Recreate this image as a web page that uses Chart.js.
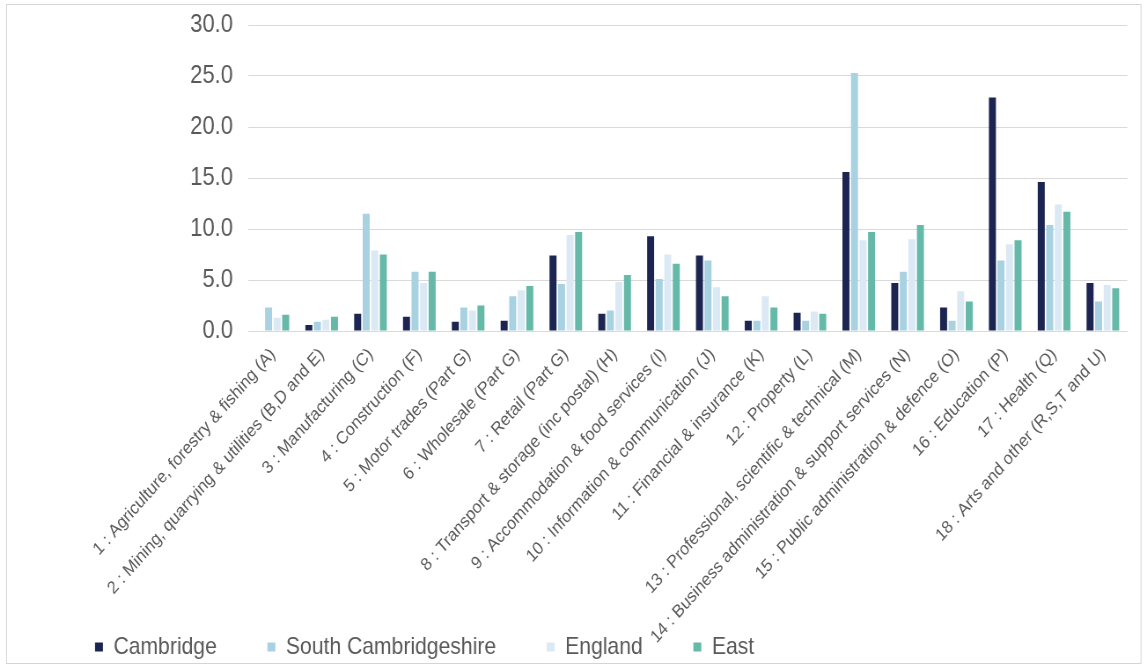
<!DOCTYPE html>
<html>
<head>
<meta charset="utf-8">
<style>
  html, body { margin: 0; padding: 0; background: #ffffff; overflow: hidden; }
  #wrap { position: relative; width: 1147px; height: 666px; overflow: hidden; }
  /* the figure is laid out wider and squeezed horizontally into the page */
  #chart { position: absolute; left: 0; top: 0; transform: scaleX(0.88028); transform-origin: 0 0; }
</style>
<script src="https://cdn.jsdelivr.net/npm/chart.js@4.4.1/dist/chart.umd.min.js"></script>
</head>
<body>
<div id="wrap"><canvas id="chart" width="1303" height="666"></canvas></div>
<script>
// Share of employment by industry (%)
const industries = [
  "1 : Agriculture, forestry & fishing (A)",
  "2 : Mining, quarrying & utilities (B,D and E)",
  "3 : Manufacturing (C)",
  "4 : Construction (F)",
  "5 : Motor trades (Part G)",
  "6 : Wholesale (Part G)",
  "7 : Retail (Part G)",
  "8 : Transport & storage (inc postal) (H)",
  "9 : Accommodation & food services (I)",
  "10 : Information & communication (J)",
  "11 : Financial & insurance (K)",
  "12 : Property (L)",
  "13 : Professional, scientific & technical (M)",
  "14 : Business administration & support services (N)",
  "15 : Public administration & defence (O)",
  "16 : Education (P)",
  "17 : Health (Q)",
  "18 : Arts and other (R,S,T and U)"
];

const cambridge           = [0.0, 0.6, 1.7, 1.4, 0.9, 1.0, 7.4, 1.7, 9.3, 7.4, 1.0, 1.8, 15.6, 4.7, 2.3, 22.9, 14.6, 4.7];
const southCambridgeshire = [2.3, 0.9, 11.5, 5.8, 2.3, 3.4, 4.6, 2.0, 5.1, 6.9, 1.0, 1.0, 25.3, 5.8, 1.0, 6.9, 10.4, 2.9];
const england             = [1.3, 1.1, 7.9, 4.7, 2.0, 4.0, 9.4, 4.8, 7.5, 4.3, 3.4, 1.9, 8.9, 9.0, 3.9, 8.5, 12.4, 4.5];
const east                = [1.6, 1.4, 7.5, 5.8, 2.5, 4.4, 9.7, 5.5, 6.6, 3.4, 2.3, 1.7, 9.7, 10.4, 2.9, 8.9, 11.7, 4.2];

const seriesNames = ["Cambridge", "South Cambridgeshire", "England", "East"];
const yTicks = [0, 5, 10, 15, 20, 25, 30];

const fontFamily = "'Liberation Sans', Arial, sans-serif";

// light frame around the whole figure
const framePlugin = {
  id: 'frame',
  afterDraw(chart) {
    const ctx = chart.ctx;
    ctx.save();
    ctx.strokeStyle = '#d4d4d4';
    ctx.lineWidth = 1;
    ctx.strokeRect(7.4, 4.5, 1288.8, 659);
    ctx.restore();
  }
};

// let the long rotated category labels run down past the axis box
const labelRoomPlugin = {
  id: 'labelRoom',
  afterLayout(chart) {
    const x = chart.scales.x;
    x.bottom = chart.height;
  }
};

const colours = ['#1c2551', '#a8d1e1', '#dbe9f4', '#65b9a8'];
const values = [cambridge, southCambridgeshire, england, east];

new Chart(document.getElementById('chart'), {
  type: 'bar',
  data: {
    labels: industries,
    datasets: seriesNames.map((name, i) => ({
      label: name,
      data: values[i],
      backgroundColor: colours[i],
      borderWidth: 0,
      categoryPercentage: 0.70,
      barPercentage: 0.82
    }))
  },
  options: {
    responsive: false,
    animation: false,
    devicePixelRatio: 1,
    layout: { padding: { top: 25, left: 50.4, right: 22.4, bottom: -3 } },
    plugins: {
      legend: {
        position: 'bottom',
        align: 'start',
        labels: {
          boxWidth: 9,
          boxHeight: 9,
          padding: 57.5,
          color: '#595959',
          font: { family: fontFamily, size: 24 }
        }
      },
      tooltip: { enabled: false },
      title: { display: false }
    },
    scales: {
      x: {
        grid: { display: false, drawTicks: false },
        border: { display: true, color: '#d9d9d9', width: 1 },
        ticks: {
          autoSkip: false,
          maxRotation: 45,
          minRotation: 45,
          padding: 13,
          color: '#595959',
          font: { family: fontFamily, size: 18 }
        },
        afterFit(scale) { scale.height = 246.5; }
      },
      y: {
        min: 0,
        max: 30,
        afterBuildTicks(scale) { scale.ticks = yTicks.map(v => ({ value: v })); },
        grid: { color: '#d9d9d9', lineWidth: 1, drawTicks: false },
        border: { display: false },
        ticks: {
          padding: 17.5,
          color: '#595959',
          font: { family: fontFamily, size: 25, lineHeight: 0.6 },
          callback: (v) => Number(v).toFixed(1)
        },
        afterFit(scale) { scale.width = 231.8; }
      }
    }
  },
  plugins: [framePlugin, labelRoomPlugin]
});
</script>
</body>
</html>
